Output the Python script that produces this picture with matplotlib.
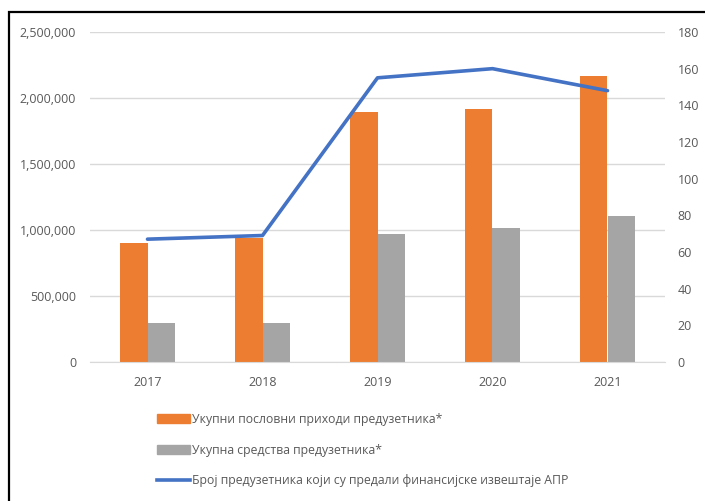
import matplotlib.pyplot as plt
import matplotlib.patches as mpatches
from matplotlib.lines import Line2D
from matplotlib.ticker import FuncFormatter, MultipleLocator

# data
years = ['2017', '2018', '2019', '2020', '2021']
prihodi = [900000, 942000, 1894000, 1914000, 2167000]
sredstva = [293000, 293000, 967000, 1013000, 1108000]
broj = [67, 69, 155, 160, 148]

labels = ['Укупни пословни приходи предузетника*',
          'Укупна средства предузетника*',
          'Број предузетника који су предали финансијске извештаје АПР']

orange = '#ED7D31'
gray = '#A5A5A5'
blue = '#4472C4'
txt = '#595959'

plt.rcParams['font.family'] = ['Open Sans', 'DejaVu Sans']
W, H = 705, 501
fig = plt.figure(figsize=(W / 100, H / 100), dpi=100)

ax = fig.add_axes([90 / W, (H - 362) / H, 575 / W, 330 / H])
ax2 = ax.twinx()

x = list(range(len(years)))
bw = 0.24
ax.bar([i - bw / 2 for i in x], prihodi, width=bw, color=orange, zorder=2)
ax.bar([i + bw / 2 for i in x], sredstva, width=bw, color=gray, zorder=2)
ax2.plot(x, broj, color=blue, linewidth=2.6, solid_capstyle='round', zorder=3)

ax.set_xlim(-0.5, 4.5)
ax.set_ylim(0, 2500000)
ax2.set_ylim(0, 180)
ax.yaxis.set_major_locator(MultipleLocator(500000))
ax2.yaxis.set_major_locator(MultipleLocator(20))
ax.yaxis.set_major_formatter(FuncFormatter(lambda v, p: f'{int(v):,}'))

ax.set_xticks(x)
ax.set_xticklabels(years)
ax.grid(axis='y', color='#D9D9D9', linewidth=1, zorder=0)
ax.set_axisbelow(True)

for a in (ax, ax2):
    for s in a.spines.values():
        s.set_visible(False)
    a.tick_params(length=0, labelsize=9, colors=txt)
ax.spines['bottom'].set_visible(True)
ax.spines['bottom'].set_color('#D9D9D9')
ax.tick_params(axis='x', pad=10)
ax.tick_params(axis='y', pad=10)
ax2.tick_params(axis='y', pad=9)

handles = [mpatches.Patch(color=orange), mpatches.Patch(color=gray),
           Line2D([0], [0], color=blue, linewidth=2.6)]
fig.legend(handles, labels, loc='upper left', bbox_to_anchor=(157 / W, (H - 413) / H),
           frameon=False, fontsize=8.8, handlelength=2.7, handletextpad=0.2,
           labelspacing=1.45, borderpad=0, borderaxespad=0, labelcolor=txt)

# black frame around the chart (cut off at right and bottom)
fig.add_artist(mpatches.Rectangle((9 / W, -0.1), 1.2, (H - 12) / H + 0.1,
                                  transform=fig.transFigure, fill=False,
                                  edgecolor='black', linewidth=1.6))

fig.savefig('out.png', dpi=100)
